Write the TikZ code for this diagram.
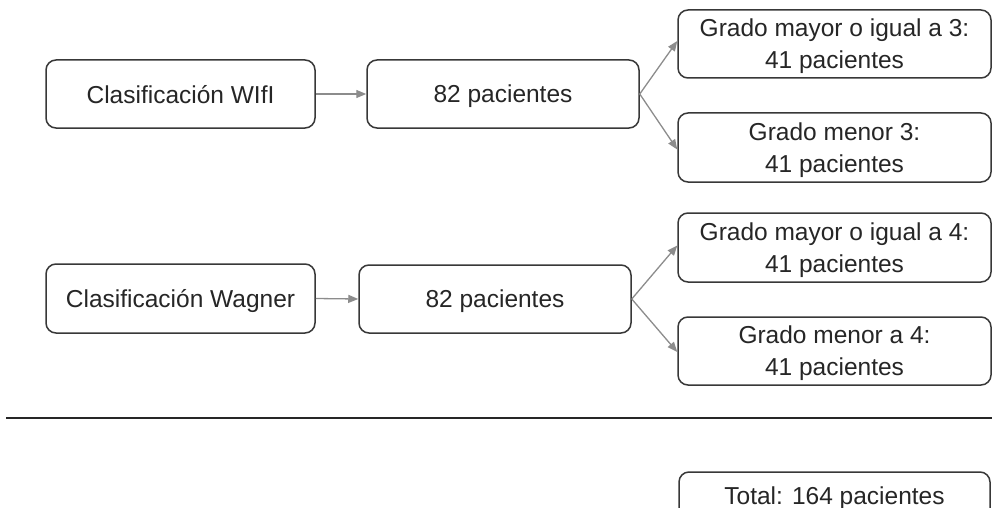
\documentclass[tikz,border=0pt]{standalone}
\usepackage{fontspec}
\setmainfont{Liberation Sans}
\usetikzlibrary{arrows.meta}
\tikzset{
  box/.style={draw=black!78, line width=1.5pt, rounded corners=10pt, fill=white,
    inner sep=0pt, align=center, text depth=0pt, font=\fontsize{24.5}{32}\selectfont, text=black!85},
  conn/.style={draw=black!45, line width=1.3pt, -{Triangle[length=10pt,width=8pt]}},
}
\begin{document}
\begin{tikzpicture}[x=1pt,y=-1pt]
\useasboundingbox (0,0) rectangle (992,508);
\clip (0,0) rectangle (992,508);
% row 1
\node[box, minimum width=269pt, minimum height=68pt] (a1) at (180.5,94) {Clasificación WIfI};
\node[box, minimum width=272pt, minimum height=68pt] (b1) at (503,94) {82 pacientes};
\node[box, minimum width=313pt, minimum height=68pt] (c1) at (834.5,44) {Grado mayor o igual a 3:\\41 pacientes};
\node[box, minimum width=313pt, minimum height=69pt] (c2) at (834.5,147.5) {Grado menor 3:\\41 pacientes};
% row 2
\node[box, minimum width=269pt, minimum height=69pt] (a2) at (180.5,298.5) {Clasificación Wagner};
\node[box, minimum width=272pt, minimum height=68pt] (b2) at (495,299) {82 pacientes};
\node[box, minimum width=313pt, minimum height=69pt] (c3) at (834.5,247.5) {Grado mayor o igual a 4:\\41 pacientes};
\node[box, minimum width=313pt, minimum height=68pt] (c4) at (834.5,351) {Grado menor a 4:\\41 pacientes};
% total
\node[box, minimum width=311pt, minimum height=68pt] (tot) at (834.5,506) {};
\node[font=\fontsize{24.5}{32}\selectfont, text=black!85, inner sep=0pt] (tottxt) at (834.5,498) {Total: 164 pacientes};
% separator
\coordinate (l1) at (6,418);
\coordinate (l2) at (992,418);
\draw[black!85, line width=1.5pt] (l1) -- (l2);
% connectors
\draw[conn] (a1.east) -- (b1.west);
\draw[conn] (b1.east) -- ([yshift=3pt]c1.west);
\draw[conn] (b1.east) -- ([yshift=-2pt]c2.west);
\draw[conn] (a2.east) -- (b2.west);
\draw[conn] (b2.east) -- ([yshift=2pt]c3.west);
\draw[conn] (b2.east) -- ([yshift=-1pt]c4.west);
\end{tikzpicture}
\end{document}
